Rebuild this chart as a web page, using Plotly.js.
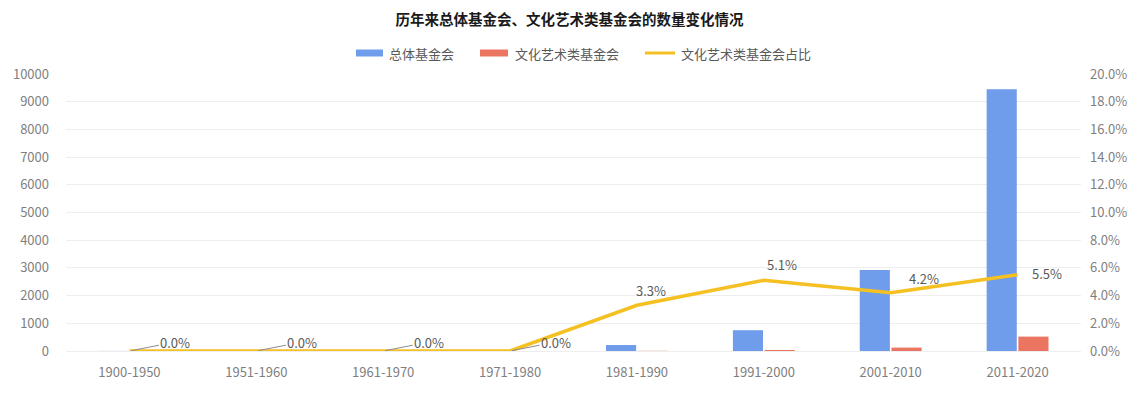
<!DOCTYPE html>
<html>
<head>
<meta charset="utf-8">
<script src="https://cdn.plot.ly/plotly-3.0.1.min.js"></script>
<style>html,body{margin:0;padding:0;background:#fff;}#chart{width:1139px;height:397px;}</style>
</head>
<body>
<div id="chart"></div>
<script>
const periods = ["1900-1950","1951-1960","1961-1970","1971-1980","1981-1990","1991-2000","2001-2010","2011-2020"];
const totalFoundations = [3, 5, 10, 20, 215, 750, 2925, 9450];
const cultureFoundations = [0, 0, 0, 0, 7, 38, 123, 520];
const cultureShare = [0.0, 0.0, 0.0, 0.0, 0.033, 0.051, 0.042, 0.055];
const seriesNames = ["总体基金会", "文化艺术类基金会", "文化艺术类基金会占比"];
const leftTicks = [0,1000,2000,3000,4000,5000,6000,7000,8000,9000,10000];
const rightTicks = [0,0.02,0.04,0.06,0.08,0.10,0.12,0.14,0.16,0.18,0.20];

const FONT = '"Noto Sans CJK SC", "Noto Sans", sans-serif';
const BLUE = '#6f9ceb', RED = '#ec7562', YELLOW = '#f5c021';

const traces = [
  {type:'bar', name:seriesNames[0], x:periods, y:totalFoundations, marker:{color:BLUE}, yaxis:'y', showlegend:false, hoverinfo:'x+y'},
  {type:'bar', name:seriesNames[1], x:periods, y:cultureFoundations, marker:{color:RED}, yaxis:'y', showlegend:false, hoverinfo:'x+y'},
  {type:'scatter', mode:'lines', name:seriesNames[2], x:periods, y:cultureShare, yaxis:'y2',
   line:{color:YELLOW, width:3.5}, showlegend:false}
];

// label placement styles (pixels), per point
const labelStyle = cultureShare.map((v, i) => {
  if (v === 0) return {showarrow:true, ax:46, ay:-9};
  if (i === 4) return {showarrow:false, xshift:14, yshift:15};
  if (i === 5) return {showarrow:false, xshift:18, yshift:16};
  if (i === 6) return {showarrow:false, xshift:33, yshift:14};
  return {showarrow:false, xshift:29, yshift:1};
});

const annotations = cultureShare.map((v, i) => Object.assign({
  x: periods[i], y: v, xref:'x', yref:'y2',
  text: (v*100).toFixed(1) + '%',
  font:{family:FONT, size:13, color:'#595959'},
  arrowhead:0, arrowwidth:1, arrowcolor:'#8c8c8c', standoff:2
}, labelStyle[i]));

// custom legend
const legendY = 1.0758;
const legendItems = [
  {kind:'rect', color:BLUE, x0:0.2857, x1:0.3123, tx:0.3166, text:seriesNames[0]},
  {kind:'rect', color:RED, x0:0.4079, x1:0.4355, tx:0.4404, text:seriesNames[1]},
  {kind:'line', color:YELLOW, x0:0.5704, x1:0.6000, tx:0.6039, text:seriesNames[2]}
];
const shapes = legendItems.map(it => it.kind === 'rect'
  ? {type:'rect', xref:'paper', yref:'paper', x0:it.x0, x1:it.x1, y0:legendY-0.0126, y1:legendY+0.0126, fillcolor:it.color, line:{width:0}}
  : {type:'line', xref:'paper', yref:'paper', x0:it.x0, x1:it.x1, y0:legendY, y1:legendY, line:{color:it.color, width:3}});
legendItems.forEach(it => annotations.push({
  xref:'paper', yref:'paper', x:it.tx, y:legendY, xanchor:'left', yanchor:'middle', showarrow:false,
  text:it.text, font:{family:FONT, size:13, color:'#595959'}
}));

const layout = {
  width:1139, height:397,
  margin:{l:66, r:58, t:74, b:46},
  paper_bgcolor:'#fff', plot_bgcolor:'#fff',
  title:{text:'<b>历年来总体基金会、文化艺术类基金会的数量变化情况</b>', x:0.5, xanchor:'center', y:0.95, yanchor:'middle',
         font:{family:FONT, size:14.5, color:'#1a1a1a'}},
  barmode:'group', bargap:0.5, bargroupgap:0.05,
  showlegend:false,
  xaxis:{type:'category', showgrid:false, zeroline:false, showline:false, ticks:'', ticklabelstandoff:12,
         tickfont:{family:FONT, size:13, color:'#7f7f7f'}},
  yaxis:{range:[0,10000], tickvals:leftTicks, ticktext:leftTicks.map(String), showgrid:true, gridcolor:'#eeeeee', gridwidth:1,
         zeroline:true, zerolinecolor:'#eeeeee', showline:false, ticks:'', ticklabelstandoff:16,
         tickfont:{family:FONT, size:13, color:'#7f7f7f'}},
  yaxis2:{range:[0,0.2], overlaying:'y', side:'right', tickvals:rightTicks, ticktext:rightTicks.map(v => (v*100).toFixed(1)+'%'),
          showgrid:false, zeroline:false, showline:false, ticks:'', ticklabelstandoff:8,
          tickfont:{family:FONT, size:13, color:'#7f7f7f'}},
  annotations:annotations,
  shapes:shapes
};

Plotly.newPlot('chart', traces, layout, {displayModeBar:false, staticPlot:true});
</script>
</body>
</html>
